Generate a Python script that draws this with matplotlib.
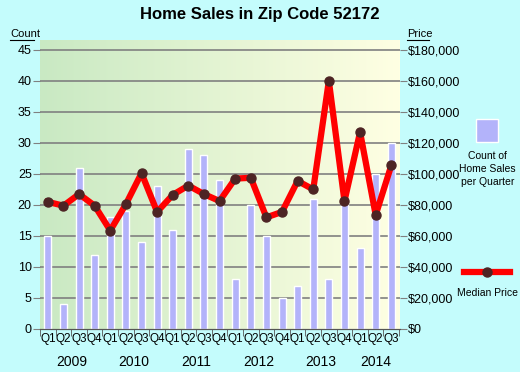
import numpy as np
import matplotlib
matplotlib.use("Agg")
import matplotlib.pyplot as plt
from matplotlib.ticker import FuncFormatter
from matplotlib.transforms import blended_transform_factory

quarters = ['Q1', 'Q2', 'Q3', 'Q4'] * 5 + ['Q1', 'Q2', 'Q3']
years = ['2009', '2010', '2011', '2012', '2013', '2014']
counts = [15, 4, 26, 12, 18, 19, 14, 23, 16, 29, 28, 24,
          8, 20, 15, 5, 7, 21, 8, 21, 13, 25, 30]
prices = [82000, 79500, 87000, 79500, 63500, 80500, 100500, 75500,
          86500, 92500, 87000, 82500, 97000, 97500, 72000, 75500,
          95500, 90000, 160000, 82500, 127000, 73500, 105500]

plt.rcParams['font.family'] = ['Liberation Sans', 'DejaVu Sans']

bg = '#c4fcfc'
fig = plt.figure(figsize=(5.2, 3.72), dpi=100, facecolor=bg)
ax = fig.add_axes([0.077, 0.1156, 0.692, 0.777])
ax2 = ax.twinx()

x = np.arange(len(counts))
xmin, xmax = -0.5, 22.55
ymax = 46.6

# gradient background, green on the left to pale yellow on the right
grad = np.linspace(0, 1, 256).reshape(1, -1)
cmap = matplotlib.colors.LinearSegmentedColormap.from_list('bg', ['#c9e9c3', '#ffffe3'])
ax.imshow(grad, extent=[xmin, xmax, 0, ymax], aspect='auto', cmap=cmap, zorder=0)

for v in range(5, 50, 5):
    ax.axhline(v, color='#808080', lw=1.2, zorder=1)

ax.bar(x, counts, width=0.45, color='#b3b3fa', edgecolor='white', lw=1, zorder=2)

ax2.plot(x, prices, color='#ff0000', lw=4.5, zorder=3, solid_joinstyle='round')
ax2.plot(x, prices, 'o', color='#4d2424', ms=6.5, zorder=4)

ax.set_xlim(xmin, xmax)
ax.set_ylim(0, ymax)
ax2.set_ylim(0, ymax / 45 * 180000)
ax.set_yticks(range(0, 50, 5))
ax2.set_yticks(range(0, 200000, 20000))
ax2.yaxis.set_major_formatter(FuncFormatter(lambda v, p: '${:,.0f}'.format(v)))

ax.set_xticks(x)
ax.set_xticklabels(quarters)
ax.set_xticks(np.arange(-0.5, 23, 1), minor=True)
ax.tick_params(axis='x', which='major', length=0, pad=3, labelsize=8.5)
ax.tick_params(axis='x', which='minor', length=5, color='#555555')
ax.tick_params(axis='y', length=5, color='#808080', labelsize=9, pad=1)
ax2.tick_params(axis='y', length=5, color='#808080', labelsize=9, pad=1)

for a in (ax, ax2):
    for s in ('top', 'left', 'right'):
        a.spines[s].set_visible(False)
    a.spines['bottom'].set_color('#555555')

trans = blended_transform_factory(ax.transData, ax.transAxes)
centers = [1.5, 5.5, 9.5, 13.5, 17.5, 21]
for c, yr in zip(centers, years):
    ax.text(c, -0.09, yr, transform=trans, ha='center', va='top', fontsize=10)

fig.text(0.5, 0.962, 'Home Sales in Zip Code 52172', ha='center', va='center',
         fontsize=12, fontweight='bold')
fig.text(0.019, 0.909, 'Count', ha='left', va='center', fontsize=8)
fig.text(0.783, 0.909, 'Price', ha='left', va='center', fontsize=8)
fig.add_artist(plt.Line2D([0.019, 0.066], [0.893, 0.893], color='black', lw=0.8))
fig.add_artist(plt.Line2D([0.783, 0.825], [0.893, 0.893], color='black', lw=0.8))

# legend on the right
fig.patches.append(plt.Rectangle((0.915, 0.618), 0.043, 0.063, transform=fig.transFigure,
                                 facecolor='#b3b3fa', edgecolor='white', lw=1))
fig.text(0.937, 0.545, 'Count of\nHome Sales\nper Quarter', ha='center', va='center',
         fontsize=7.5, linespacing=1.35)
fig.add_artist(plt.Line2D([0.893, 0.981], [0.268, 0.268], color='#ff0000', lw=4.5))
fig.add_artist(plt.Line2D([0.937], [0.268], marker='o', color='#4d2424', ms=6.5))
fig.text(0.937, 0.213, 'Median Price', ha='center', va='center', fontsize=7.5)

fig.savefig('out.png', dpi=100, facecolor=bg)
